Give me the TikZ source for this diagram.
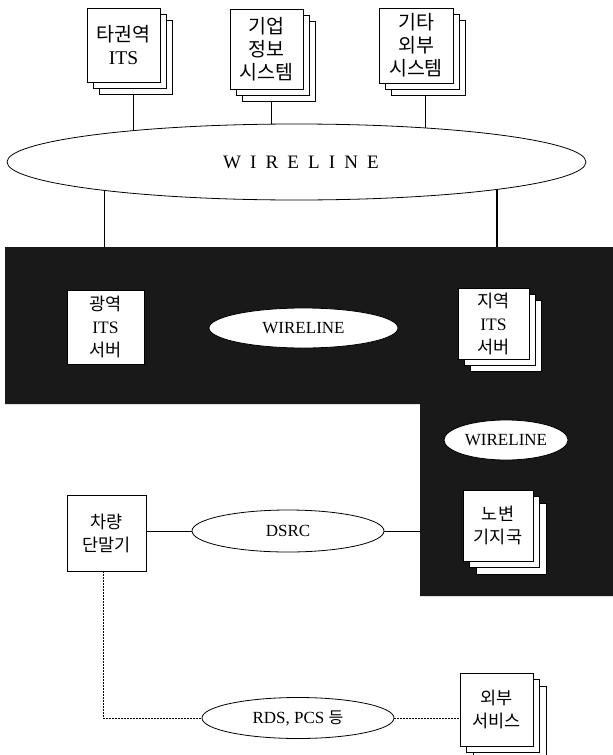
\documentclass[tikz,border=0pt]{standalone}
\usepackage{fontspec}
\setmainfont{Liberation Serif}
\newfontfamily\cjk{Noto Sans CJK KR}
\usetikzlibrary{shapes.geometric,calc}
\tikzset{
  pagebox/.style={draw=black, fill=white, line width=0.8pt, inner sep=0pt, align=center},
  topfont/.style={font=\cjk\fontsize{19.5}{23}\selectfont},
  lowfont/.style={font=\cjk\fontsize{17.5}{23}\selectfont},
  oval/.style={draw=black, fill=white, ellipse, line width=0.8pt, inner sep=0pt},
  conn/.style={draw=black, line width=0.8pt},
  dotconn/.style={draw=black, line width=0.8pt, dash pattern=on 1.6pt off 1.4pt},
  heavy/.style={draw=black, line width=2.2pt}
}
\newcommand\stackbox[8]{%
  \node[pagebox, #8, minimum width=#4pt, minimum height=#5pt] (#1b) at ($(#2,#3)+(2*#6,2*#6)$) {};
  \node[pagebox, #8, minimum width=#4pt, minimum height=#5pt] (#1a) at ($(#2,#3)+(#6,#6)$) {};
  \node[pagebox, #8, minimum width=#4pt, minimum height=#5pt] (#1) at (#2,#3) {#7};
}
\begin{document}
\begin{tikzpicture}[x=1pt,y=-1pt]
\useasboundingbox[fill=white] (0,0) rectangle (613,755);
% black region
\fill[black!90] (5,247) -- (613,247) -- (613,596) -- (420,596) -- (420,404) -- (5,404) -- cycle;
\coordinate (btl) at (104,247);
\coordinate (btr) at (497,247);
\coordinate (bedge) at (420,531);
% big ellipse anchor for lines
\coordinate (wlc) at (296.5,162);
% top stacks
\stackbox{ta}{123.5}{45}{73}{74}{6}{타권역\\{\rmfamily ITS}}{topfont}
\stackbox{tb}{266.5}{49}{73}{80}{6}{기업\\정보\\시스템}{topfont}
\stackbox{tc}{416}{45.5}{74}{75}{6}{기타\\외부\\시스템}{topfont}
% connectors top
\draw[conn] ([xshift=-2.5pt]tab.south) -- ([xshift=-2.5pt]tab.south |- wlc);
\draw[conn] ([xshift=-7.5pt]tbb.south) -- ([xshift=-7.5pt]tbb.south |- wlc);
\draw[conn] ([xshift=-3pt]tcb.south) -- ([xshift=-3pt]tcb.south |- wlc);
\draw[conn] (btl) -- (btl |- wlc);
\draw[heavy] (btr) -- (btr |- wlc);
% big ellipse
\node[oval, minimum width=579pt, minimum height=76pt, font=\fontsize{19}{23}\selectfont] (wl) at (wlc) {\addfontfeature{LetterSpace=48}WIRELINE\kern-9pt};
% inside black region
\node[pagebox, lowfont, minimum width=77pt, minimum height=74pt] (gw) at (105.5,327) {광역\\{\rmfamily ITS}\\서버};
\node[oval, minimum width=189pt, minimum height=40pt, font=\fontsize{17}{20}\selectfont] (wl2) at (303.5,328) {WIRELINE};
\stackbox{jy}{493.5}{323.5}{71}{71}{6}{지역\\{\rmfamily ITS}\\서버}{lowfont}
\node[oval, minimum width=124pt, minimum height=40pt, font=\fontsize{17}{20}\selectfont] (wl3) at (506,440) {WIRELINE};
\stackbox{nb}{498}{525.5}{70}{71}{6.5}{노변\\기지국}{lowfont}
% vehicle terminal and DSRC
\node[pagebox, lowfont, minimum width=79pt, minimum height=76pt] (car) at (106.5,533) {차량\\단말기};
\node[oval, minimum width=192pt, minimum height=42pt, font=\fontsize{17}{20}\selectfont] (dsrc) at (288,531) {DSRC};
\draw[conn] (car.east |- dsrc.west) -- (dsrc.west);
\draw[conn] (dsrc.east) -- (bedge);
% RDS / PCS
\node[oval, minimum width=192pt, minimum height=41pt, font=\fontsize{17}{20}\selectfont] (rds) at (298,718) {RDS, PCS {\cjk\fontsize{16}{20}\selectfont 등}};
\stackbox{ex}{496.5}{709.5}{73}{73}{6.5}{외부\\서비스}{lowfont}
\draw[dotconn] ([xshift=-3.5pt]car.south) |- (rds.west);
\draw[dotconn] (rds.east) -- (rds.east -| ex.west);
\end{tikzpicture}
\end{document}
